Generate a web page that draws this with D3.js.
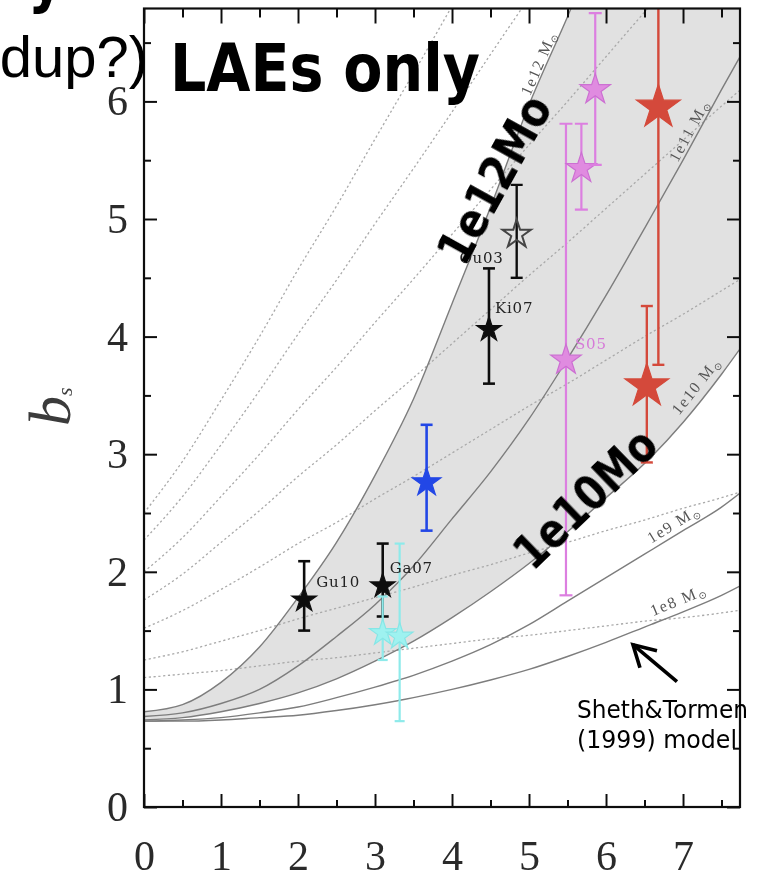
<!DOCTYPE html>
<html>
<head>
<meta charset="utf-8">
<script src="https://cdn.jsdelivr.net/npm/d3@7"></script>
<style>
  html, body { margin: 0; padding: 0; background: #fff; }
  svg { display: block; }
</style>
</head>
<body>
<svg id="chart" width="758" height="882"></svg>
<script>
// ---------------------------------------------------------------
// Data
// ---------------------------------------------------------------

// redshift grid shared by the model curves
const zGrid = [0, 0.5, 1, 1.5, 2, 2.5, 3, 3.5, 4, 4.5, 5, 5.5, 6, 6.5, 7, 7.5, 7.8];

// Sheth & Tormen (1999) halo bias at fixed halo mass
const bias1e12 = [0.81, 0.87, 1.06, 1.36, 1.78, 2.25, 2.82, 3.47, 4.28, 5.10, 5.97, 6.72, 7.50];
const bias1e11 = [0.77, 0.80, 0.88, 1.00, 1.20, 1.45, 1.72, 2.05, 2.45, 2.85, 3.30, 3.81, 4.35, 4.92, 5.50, 6.10, 6.45];
const bias1e10 = [0.74, 0.76, 0.81, 0.88, 0.97, 1.09, 1.24, 1.41, 1.61, 1.83, 2.07, 2.34, 2.63, 2.92, 3.27, 3.68, 3.95];
const bias1e9  = [0.73, 0.74, 0.76, 0.80, 0.85, 0.93, 1.02, 1.12, 1.24, 1.38, 1.55, 1.75, 1.95, 2.15, 2.35, 2.55, 2.70];
const bias1e8  = [0.73, 0.73, 0.74, 0.76, 0.78, 0.82, 0.87, 0.93, 1.00, 1.08, 1.17, 1.28, 1.40, 1.53, 1.66, 1.80, 1.90];
const massLabels = ["1e12", "1e11", "1e10", "1e9", "1e8"];

// galaxy-conserving bias tracks (dotted), labelled by their z = 0 bias
const track110 = [1.10, 1.13, 1.16, 1.20, 1.24, 1.27, 1.31, 1.35, 1.39, 1.43, 1.46, 1.50, 1.54, 1.58, 1.61, 1.65, 1.68];
const track125 = [1.25, 1.32, 1.41, 1.50, 1.60, 1.69, 1.78, 1.87, 1.97, 2.06, 2.16, 2.25, 2.35, 2.44, 2.54, 2.63, 2.69];
const track152 = [1.52, 1.67, 1.85, 2.04, 2.24, 2.42, 2.62, 2.81, 3.01, 3.21, 3.41, 3.60, 3.80, 4.00, 4.19, 4.39, 4.51];
const track176 = [1.76, 1.98, 2.25, 2.52, 2.81, 3.08, 3.37, 3.65, 3.94, 4.23, 4.52, 4.80, 5.09, 5.38, 5.67, 5.96, 6.13];
const track200 = [2.00, 2.29, 2.64, 3.00, 3.38, 3.74, 4.12, 4.49, 4.87, 5.25, 5.63, 6.00, 6.38, 6.76, 7.14];
const track227 = [2.27, 2.64, 3.08, 3.54, 4.02, 4.48, 4.96, 5.43, 5.91, 6.40, 6.88];
const track250 = [2.50, 2.94, 3.46, 4.00, 4.57, 5.11, 5.68, 6.24, 6.81, 7.38];

// LAE clustering measurements
const obsZ     = [2.08, 3.10, 4.48, 4.84, 3.10, 3.32, 3.67, 5.48, 5.68, 5.86, 6.68, 6.53];
const obsBias  = [1.76, 1.88, 4.06, 4.87, 1.48, 1.45, 2.76, 3.80, 5.43, 6.10, 5.95, 3.58];
const obsHigh  = [2.09, 2.24, 4.58, 5.29, 1.79, 2.24, 3.25, 5.81, 5.81, 6.75, 7.60, 4.26];
const obsLow   = [1.50, 1.62, 3.60, 4.50, 1.25, 0.73, 2.35, 1.80, 5.08, 5.46, 3.76, 2.93];
const obsGroup = ["black", "black", "black", "open", "cyan", "cyan", "blue", "violet", "violet", "violet", "red", "red"];
const obsLabel = ["Gu10", "Ga07", "Ki07", "Ou03", "", "", "", "S05", "", "", "", ""];

// axis ticks
const xMajorTicks = [0, 1, 2, 3, 4, 5, 6, 7];
const xMinorTicks = [0.5, 1.5, 2.5, 3.5, 4.5, 5.5, 6.5, 7.5];
const yMajorTicks = [0, 1, 2, 3, 4, 5, 6];
const yMinorTicks = [0.5, 1.5, 2.5, 3.5, 4.5, 5.5, 6.5];

// ---------------------------------------------------------------
// Layout & scales
// ---------------------------------------------------------------
const svg = d3.select("#chart");
const plot = { left: 144, right: 740, top: 8.5, bottom: 807 };

const x = d3.scaleLinear().domain([0, 7.74]).range([plot.left, plot.right]);
const y = d3.scaleLinear().domain([0, 6.79]).range([plot.bottom, plot.top]);

const defs = svg.append("defs");
defs.append("clipPath").attr("id", "plot-clip")
  .append("rect")
  .attr("x", plot.left).attr("y", plot.top)
  .attr("width", plot.right - plot.left).attr("height", plot.bottom - plot.top);
defs.append("filter").attr("id", "soft")
  .attr("x", "-5%").attr("y", "-5%").attr("width", "110%").attr("height", "110%")
  .append("feGaussianBlur").attr("stdDeviation", 0.55);

const chart = svg.append("g").attr("filter", "url(#soft)");
const inner = chart.append("g").attr("clip-path", "url(#plot-clip)");

const pairs = (vals) => vals.map((b, i) => [zGrid[i], b]);
const line = d3.line().x(d => x(d[0])).y(d => y(d[1])).curve(d3.curveMonotoneX);

// ---------------------------------------------------------------
// Shaded band between the 1e10 and 1e12 Msun curves
// ---------------------------------------------------------------
const band = zGrid.map((z, i) => ({
  z,
  lo: bias1e10[i],
  hi: i < bias1e12.length ? bias1e12[i] : bias1e12[bias1e12.length - 1]
}));
inner.append("path")
  .datum(band)
  .attr("fill", "#e1e1e1")
  .attr("d", d3.area()
    .x(d => x(d.z)).y0(d => y(d.lo)).y1(d => y(d.hi))
    .curve(d3.curveMonotoneX));

// ---------------------------------------------------------------
// Dotted galaxy-conserving tracks
// ---------------------------------------------------------------
const tracks = [track110, track125, track152, track176, track200, track227, track250];
inner.selectAll("path.track")
  .data(tracks)
  .join("path")
  .attr("class", "track")
  .attr("fill", "none")
  .attr("stroke", "#a9a9a9")
  .attr("stroke-width", 1.3)
  .attr("stroke-dasharray", "2.2,2.6")
  .attr("d", d => line(pairs(d)));

// ---------------------------------------------------------------
// Fixed-mass Sheth & Tormen curves
// ---------------------------------------------------------------
const massCurves = [bias1e12, bias1e11, bias1e10, bias1e9, bias1e8];
inner.selectAll("path.mass")
  .data(massCurves)
  .join("path")
  .attr("class", "mass")
  .attr("fill", "none")
  .attr("stroke", "#7d7d7d")
  .attr("stroke-width", 1.4)
  .attr("d", d => line(pairs(d)));

// curve labels, laid along each curve just above it
function biasAt(vals, z) {
  const zs = zGrid.slice(0, vals.length);
  return d3.scaleLinear().domain(zs).range(vals).clamp(false)(z);
}
const massLabelZ = [5.22, 7.18, 7.3, 6.95, 7.0];
const massLabelOffset = [8, 9, 13, 11, 13];
massCurves.forEach((vals, i) => {
  const z = massLabelZ[i];
  const x1 = x(z - 0.08), y1 = y(biasAt(vals, z - 0.08));
  const x2 = x(z + 0.08), y2 = y(biasAt(vals, z + 0.08));
  const dx = x2 - x1, dy = y2 - y1, len = Math.hypot(dx, dy);
  const ang = Math.atan2(dy, dx) * 180 / Math.PI;
  const off = massLabelOffset[i];
  const px = x(z) + dy / len * off, py = y(biasAt(vals, z)) - dx / len * off;
  const t = inner.append("text")
    .attr("transform", `translate(${px},${py}) rotate(${ang})`)
    .attr("text-anchor", "middle")
    .attr("dy", "0.35em")
    .attr("font-family", "Liberation Serif, serif")
    .attr("font-size", 16)
    .attr("letter-spacing", 1.6)
    .attr("fill", "#555");
  t.append("tspan").text(massLabels[i] + " M");
  t.append("tspan").attr("font-size", 10).attr("dy", 3).text("\u2299");
});

// ---------------------------------------------------------------
// Measurements: error bars, stars, labels
// ---------------------------------------------------------------
const groupStyle = {
  black:  { fill: "#111",    stroke: "#111",    bar: "#111",    r: 13, cap: 12, w: 2.6 },
  open:   { fill: "none",    stroke: "#444",    bar: "#111",    r: 15, cap: 12, w: 2.4 },
  cyan:   { fill: "#9ef2f0", stroke: "#86e6e6", bar: "#8eeaea", r: 14, cap: 10, w: 2.2 },
  blue:   { fill: "#2347e6", stroke: "#2347e6", bar: "#2347e6", r: 15, cap: 12, w: 2.6 },
  violet: { fill: "#e08be0", stroke: "#cc6fd2", bar: "#dc7fe0", r: 16, cap: 13, w: 2.2 },
  red:    { fill: "#d4493a", stroke: "#d4493a", bar: "#d4493a", r: 23, cap: 12, w: 2.4 }
};
const obs = obsZ.map((z, i) => ({
  z, b: obsBias[i], hi: obsHigh[i], lo: obsLow[i],
  g: obsGroup[i], label: obsLabel[i], s: groupStyle[obsGroup[i]]
}));

const marks = inner.append("g");
obs.forEach(d => {
  const g = marks.append("g");
  const cx = x(d.z);
  g.append("line")
    .attr("x1", cx).attr("x2", cx).attr("y1", y(d.lo)).attr("y2", y(d.hi))
    .attr("stroke", d.s.bar).attr("stroke-width", d.s.w);
  [d.lo, d.hi].forEach(v => {
    g.append("line")
      .attr("x1", cx - d.s.cap / 2).attr("x2", cx + d.s.cap / 2)
      .attr("y1", y(v)).attr("y2", y(v))
      .attr("stroke", d.s.bar).attr("stroke-width", d.s.w);
  });
  g.append("path")
    .attr("transform", `translate(${cx},${y(d.b)})`)
    .attr("d", d3.symbol(d3.symbolStar, d.s.r * d.s.r / 0.8908130915292852)())
    .attr("fill", d.s.fill)
    .attr("stroke", d.s.stroke)
    .attr("stroke-width", d.g === "open" ? 2 : 1.2);
});

// point labels
const labelOffset = { Gu10: [12, -13, "start"], Ga07: [7, -13, "start"], Ki07: [6, -17, "start"],
                      Ou03: [-13, 29, "end"], S05: [9, -11, "start"] };
obs.filter(d => d.label).forEach(d => {
  const o = labelOffset[d.label];
  inner.append("text")
    .attr("x", x(d.z) + o[0]).attr("y", y(d.b) + o[1])
    .attr("text-anchor", o[2])
    .attr("font-family", "DejaVu Serif, serif")
    .attr("font-size", 15)
    .attr("letter-spacing", 0.8)
    .attr("fill", d.g === "violet" ? "#d67ad8" : "#222")
    .text(d.label);
});

// ---------------------------------------------------------------
// Axes (ticks point inwards on all four sides)
// ---------------------------------------------------------------
function addAxis(gen, transform) {
  const g = chart.append("g").attr("transform", transform).call(gen);
  g.select(".domain").remove();
  g.selectAll(".tick line").attr("stroke", "#111").attr("stroke-width", 2);
  return g;
}
const fmt = d3.format("d");
const bottomMajor = addAxis(d3.axisBottom(x).tickValues(xMajorTicks).tickSize(-13).tickPadding(33).tickFormat(fmt),
  `translate(0,${plot.bottom})`);
addAxis(d3.axisBottom(x).tickValues(xMinorTicks).tickSize(-7).tickFormat(""), `translate(0,${plot.bottom})`);
addAxis(d3.axisTop(x).tickValues(xMajorTicks).tickSize(-15).tickFormat(""), `translate(0,${plot.top})`);
addAxis(d3.axisTop(x).tickValues(xMinorTicks).tickSize(-9).tickFormat(""), `translate(0,${plot.top})`);
const leftMajor = addAxis(d3.axisLeft(y).tickValues(yMajorTicks).tickSize(-13).tickPadding(16).tickFormat(fmt),
  `translate(${plot.left},0)`);
addAxis(d3.axisLeft(y).tickValues(yMinorTicks).tickSize(-7).tickFormat(""), `translate(${plot.left},0)`);
addAxis(d3.axisRight(y).tickValues(yMajorTicks).tickSize(-13).tickFormat(""), `translate(${plot.right},0)`);
addAxis(d3.axisRight(y).tickValues(yMinorTicks).tickSize(-7).tickFormat(""), `translate(${plot.right},0)`);

[bottomMajor, leftMajor].forEach(g => g.selectAll("text")
  .attr("font-family", "Liberation Serif, serif")
  .attr("font-size", 42)
  .attr("fill", "#2b2b2b"));

chart.append("rect")
  .attr("x", plot.left).attr("y", plot.top)
  .attr("width", plot.right - plot.left).attr("height", plot.bottom - plot.top)
  .attr("fill", "none").attr("stroke", "#111").attr("stroke-width", 2.2);

// y-axis title: b_s
const yTitle = chart.append("text")
  .attr("transform", "translate(70,426) rotate(-90)")
  .attr("font-family", "Liberation Serif, serif")
  .attr("fill", "#3a3a3a");
yTitle.append("tspan").attr("font-style", "italic").attr("font-size", 60).text("b");
yTitle.append("tspan").attr("font-style", "italic").attr("font-size", 22).attr("dy", 2).text("s");

// ---------------------------------------------------------------
// Slide annotations
// ---------------------------------------------------------------
const notes = svg.append("g");
notes.append("text")
  .attr("x", 28).attr("y", 0)
  .attr("font-family", "DejaVu Sans, sans-serif").attr("font-weight", "bold")
  .attr("font-size", 66)
  .attr("transform", "translate(28,0) scale(0.84,1) translate(-28,0)")
  .text("y");
notes.append("text")
  .attr("x", 148).attr("y", 77)
  .attr("text-anchor", "end")
  .attr("font-family", "Liberation Sans, Arial, sans-serif")
  .attr("font-size", 58)
  .text("dup?)");
notes.append("text")
  .attr("x", 170).attr("y", 91)
  .attr("font-family", "DejaVu Sans, sans-serif").attr("font-weight", "bold")
  .attr("font-size", 66)
  .attr("textLength", 310).attr("lengthAdjust", "spacingAndGlyphs")
  .text("LAEs only");

function slantedNote(text, cx, cy, angle, len) {
  notes.append("text")
    .attr("transform", `translate(${cx},${cy}) rotate(${angle})`)
    .attr("text-anchor", "middle")
    .attr("dy", "0.36em")
    .attr("font-family", "DejaVu Sans, sans-serif").attr("font-weight", "bold")
    .attr("font-size", 48)
    .attr("textLength", len).attr("lengthAdjust", "spacingAndGlyphs")
    .text(text);
}
slantedNote("1e12Mo", 494, 179, -61, 184);
slantedNote("1e10Mo", 585, 498, -44, 178);

// arrow pointing at the Sheth & Tormen curves
const tip = [x(6.35), y(1.38)];
notes.append("path")
  .attr("d", `M${tip[0] + 44},${tip[1] + 37} L${tip[0]},${tip[1]}`)
  .attr("stroke", "#000").attr("stroke-width", 3.6).attr("fill", "none");
notes.append("path")
  .attr("d", `M${tip[0] + 24},${tip[1] + 6} L${tip[0]},${tip[1]} L${tip[0] + 7},${tip[1] + 23}`)
  .attr("stroke", "#000").attr("stroke-width", 3.6).attr("fill", "none")
  .attr("stroke-linejoin", "miter");
notes.append("text")
  .attr("x", 577).attr("y", 718)
  .attr("font-family", "DejaVu Sans, sans-serif").attr("font-size", 25)
  .attr("textLength", 171).attr("lengthAdjust", "spacingAndGlyphs")
  .text("Sheth&Tormen");
notes.append("text")
  .attr("x", 577).attr("y", 748)
  .attr("font-family", "DejaVu Sans, sans-serif").attr("font-size", 25)
  .attr("textLength", 160).attr("lengthAdjust", "spacingAndGlyphs")
  .text("(1999) model");
</script>
</body>
</html>
